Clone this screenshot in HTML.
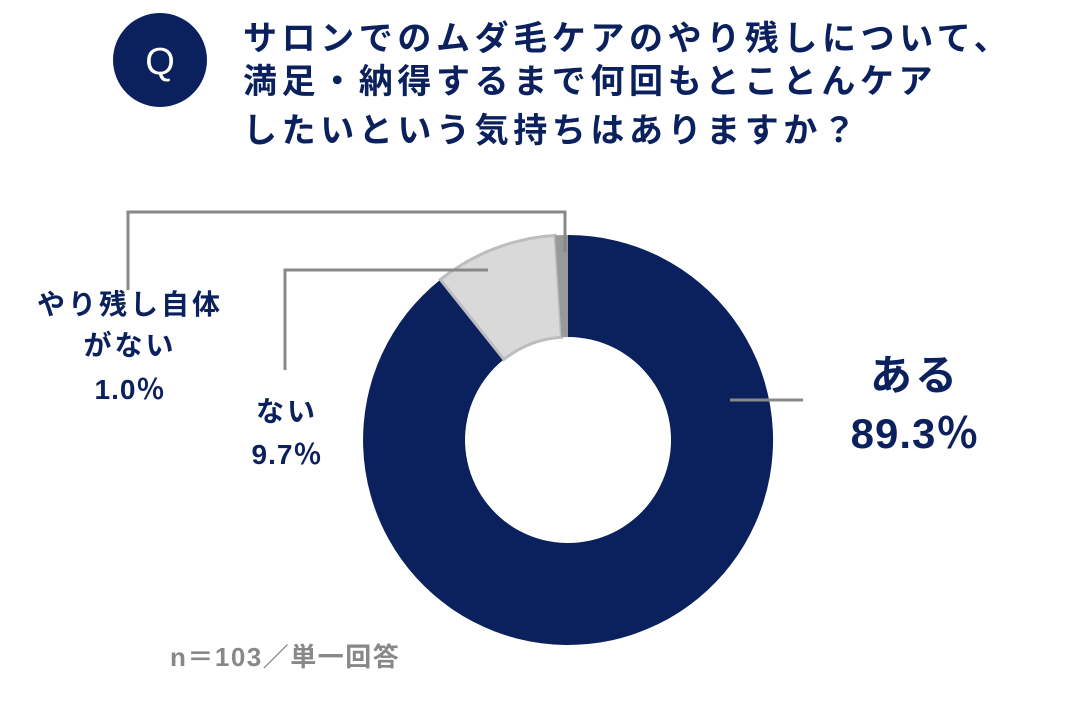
<!DOCTYPE html>
<html><head><meta charset="utf-8"><style>
body{margin:0;width:1066px;height:704px;background:#fff;overflow:hidden}
svg{display:block}
text{font-family:"Liberation Sans","Noto Sans CJK JP",sans-serif;font-weight:bold}
</style></head><body>
<svg width="1066" height="704" viewBox="0 0 1066 704">
<circle cx="160" cy="60" r="47" fill="#0b215e"/>
<text x="160" y="74" font-size="38" fill="#fff" text-anchor="middle" style="font-weight:normal">Q</text>
<g fill="#0b215e" font-size="34" letter-spacing="4.6">
<text x="243" y="50">サロンでのムダ毛ケアのやり残しについて、</text>
<text x="243" y="93">満足・納得するまで何回もとことんケア</text>
<text x="243" y="142">したいという気持ちはありますか？</text>
</g>
<path d="M568,235 A205,205 0 1 1 440.4,279.6 L503.9,359.4 A103,103 0 1 0 568,337 Z" fill="#0b215e"/>
<path d="M440.4,279.6 A205,205 0 0 1 555.1,235.4 L561.5,337.2 A103,103 0 0 0 503.9,359.4 Z" fill="#d9d9d9" stroke="#bdbdbd" stroke-width="3"/>
<path d="M555.1,235.4 A205,205 0 0 1 568,235 L568,337 A103,103 0 0 0 561.5,337.2 Z" fill="#999"/>
<g stroke="#888" stroke-width="3" fill="none">
<polyline points="128,290 128,212 565,212 565,252"/>
<polyline points="285,370 285,270 488,270"/>
<line x1="730" y1="400" x2="803" y2="400"/>
</g>
<g fill="#0b215e" text-anchor="middle">
<text x="130" y="314" font-size="28" letter-spacing="3">やり残し自体</text>
<text x="130" y="355" font-size="28" letter-spacing="3">がない</text>
<text x="130" y="399" font-size="28" letter-spacing="1">1.0％</text>
<text x="287" y="421" font-size="28" letter-spacing="3">ない</text>
<text x="287" y="464" font-size="28" letter-spacing="1">9.7％</text>
<text x="915" y="390" font-size="42" letter-spacing="3">ある</text>
<text x="915" y="448" font-size="42" letter-spacing="1">89.3％</text>
</g>
<text x="170" y="666" font-size="26" fill="#888" letter-spacing="1.5">n＝103／単一回答</text>
</svg>
</body></html>
